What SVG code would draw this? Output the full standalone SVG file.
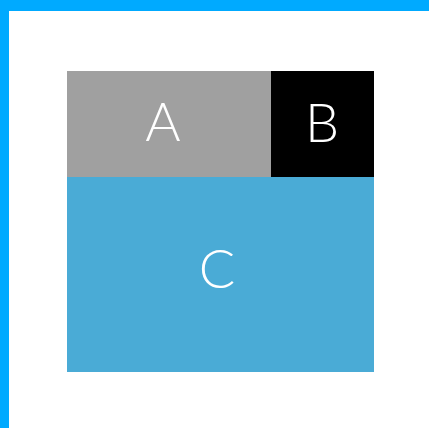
<svg xmlns="http://www.w3.org/2000/svg" width="429" height="428" viewBox="0 0 429 428">
<style>
.lbl{font-family:"Lato","Liberation Sans",sans-serif;font-weight:300;font-size:54px;fill:#ffffff;text-anchor:middle}
</style>
<rect x="0" y="0" width="429" height="428" fill="#ffffff"/>
<rect x="0" y="0" width="429" height="11" fill="#00aaff"/>
<rect x="0" y="0" width="9" height="428" fill="#00aaff"/>
<g id="A"><rect x="67" y="71" width="204" height="106" fill="#a0a0a0"/><text class="lbl" x="163" y="141">A</text></g>
<g id="B"><rect x="271" y="71" width="103" height="106" fill="#000000"/><text class="lbl" x="322" y="142">B</text></g>
<g id="C"><rect x="67" y="177" width="307" height="195" fill="#4aabd6"/><text class="lbl" x="217" y="288">C</text></g>
<g id="connectors"/>
</svg>
